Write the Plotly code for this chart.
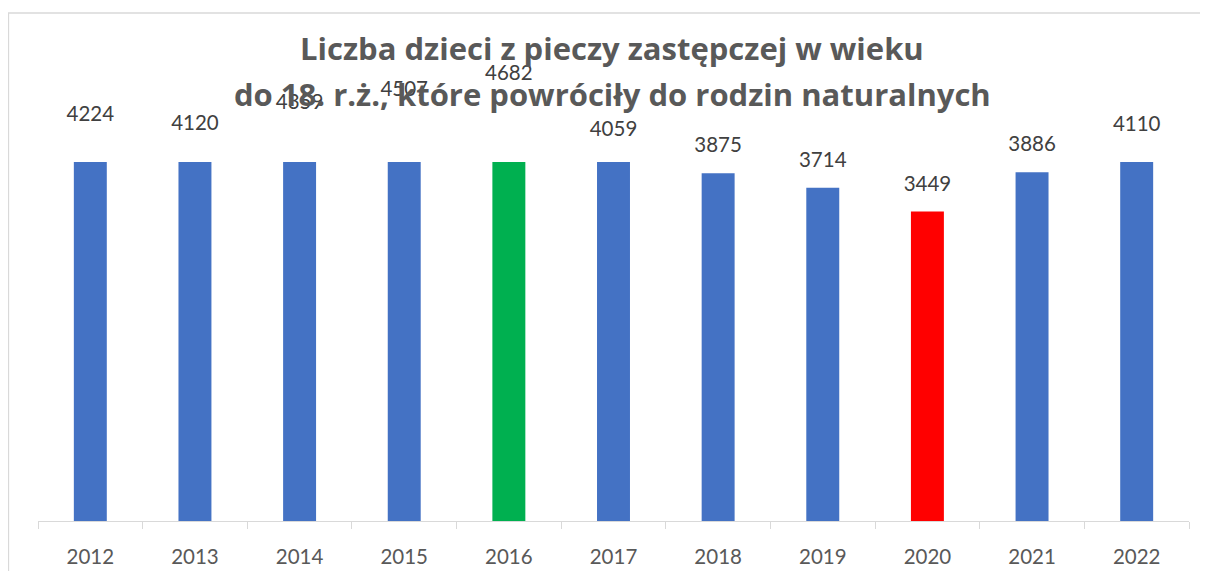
import plotly.graph_objects as go

# ---- data ----
years = ["2012", "2013", "2014", "2015", "2016", "2017", "2018", "2019", "2020", "2021", "2022"]
children = [4224, 4120, 4359, 4507, 4682, 4059, 3875, 3714, 3449, 3886, 4110]
title_lines = ["Liczba dzieci z pieczy zastępczej w wieku",
               "do 18. r.ż., które powróciły do rodzin naturalnych"]

# ---- style ----
BLUE, GREEN, RED = "#4472C4", "#00B050", "#FF0000"
bar_colors = [GREEN if v == max(children) else RED if v == min(children) else BLUE for v in children]
GRID = "#D9D9D9"
FONT = "Lato"

OFF = 8                      # default page body margin
W, H = 1208 - OFF, 571 - OFF
ML, MR, MT, MB = 38 - OFF, W - (1189 - OFF), 22, H - (521 - OFF)
plot_h = H - MT - MB
bar_top_px = 162 - OFF       # top of the bar subplot (pixels from figure top)
bar_dom = (H - MB - bar_top_px) / plot_h
YMAX = 4000
k = (H - MB - bar_top_px) / YMAX   # px per unit
label_shift = 26                     # px above value
y2min = -label_shift / k
y2max = y2min + plot_h / k

fig = go.Figure()
fig.add_trace(go.Bar(
    x=years, y=children, marker_color=bar_colors, marker_line_width=0,
    xaxis="x", yaxis="y", hoverinfo="skip",
))
fig.add_trace(go.Scatter(
    x=years, y=children, mode="text", text=[str(v) for v in children],
    textposition="middle center", textfont=dict(family=FONT, size=20.5, color="#404040"),
    xaxis="x", yaxis="y2", cliponaxis=False, hoverinfo="skip",
))

def py(px):
    return (H - MB - px) / plot_h

def px_x(px):
    return (px - ML) / (W - ML - MR)

annotations = []
for line, px in zip(title_lines, [48 - OFF, 94 - OFF]):
    annotations.append(dict(
        text=f"<b>{line}</b>", xref="paper", yref="paper", x=px_x(612 - OFF), y=py(px),
        xanchor="center", yanchor="middle", showarrow=False,
        font=dict(family="Open Sans", size=31, color="#595959"),
    ))

fig.update_layout(
    width=W, height=H, margin=dict(l=ML, r=MR, t=MT, b=MB, autoexpand=False),
    paper_bgcolor="white", plot_bgcolor="rgba(0,0,0,0)",
    showlegend=False, bargap=0.685,
    xaxis=dict(
        type="category", anchor="y", range=[-0.5, len(years) - 0.5],
        showline=True, linecolor=GRID, linewidth=1.3,
        ticks="outside", tickson="boundaries", ticklen=7, tickcolor=GRID, tickwidth=1.3,
        tickfont=dict(family=FONT, size=20.5, color="#595959"), ticklabelstandoff=17,
        showgrid=False, zeroline=False, automargin=False,
    ),
    yaxis=dict(domain=[0, bar_dom], range=[0, YMAX], visible=False, fixedrange=True,
               automargin=False),
    yaxis2=dict(domain=[0, 1], range=[y2min, y2max], anchor="x", visible=False,
                automargin=False),
    annotations=annotations,
    shapes=[dict(
        type="rect", xref="paper", yref="paper",
        x0=px_x(8.5 - OFF), x1=px_x(W + 20),
        y0=py(H + 30), y1=py(13 - OFF),
        line=dict(color=GRID, width=1.3), fillcolor="rgba(0,0,0,0)", layer="below",
    )],
)

fig.write_html("out.html")
